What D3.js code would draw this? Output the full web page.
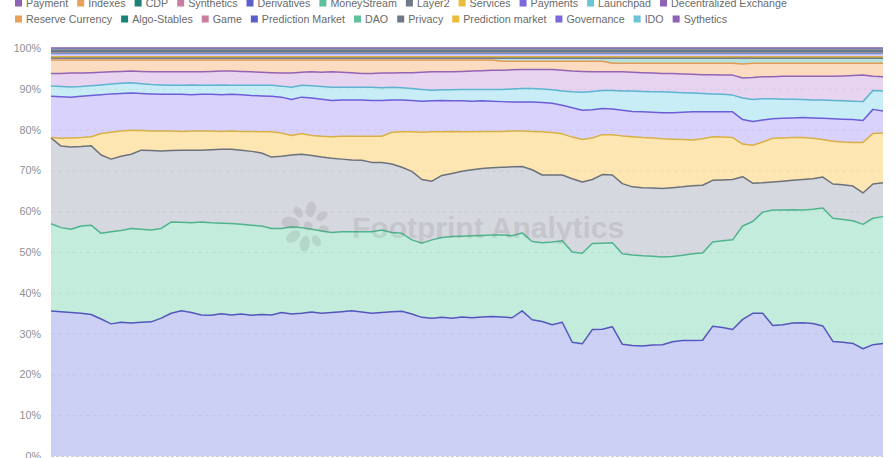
<!DOCTYPE html>
<html><head><meta charset="utf-8">
<script src="https://cdn.jsdelivr.net/npm/d3@7/dist/d3.min.js"></script>
<style>
body{margin:0;background:#fff;}
svg{display:block;font-family:"Liberation Sans",Arial,Helvetica,sans-serif;}
</style>
</head><body>
<svg id="chart" width="896" height="458"></svg>
<script>
// ---------- DATA ----------
const seriesNames = [
  "Dexes","Lending","Liquid Staking","Yield","Bridge","Yield Aggregator",
  "Payment","Indexes","CDP","Synthetics","Derivatives","MoneyStream","Layer2","Services","Payments","Launchpad","Decentralized Exchange",
  "Reserve Currency","Algo-Stables","Game","Prediction Market","DAO","Privacy","Prediction market","Governance","IDO","Sythetics"
];
const yTickValues = [0,0.1,0.2,0.3,0.4,0.5,0.6,0.7,0.8,0.9,1];
const yTickLabels = ["0%","10%","20%","30%","40%","50%","60%","70%","80%","90%","100%"];

// share of total (%), one value per day-slot, left to right
const dexes = [35.6,35.4,35.2,35.0,34.7,33.6,32.4,32.8,32.6,32.8,
 32.9,33.8,35.0,35.6,35.2,34.6,34.5,34.9,34.6,34.8,
 34.5,34.7,34.6,35.2,34.8,35.0,35.3,35.0,35.2,35.4,
 35.6,35.3,35.0,35.2,35.4,35.5,34.8,34.0,33.8,34.0,
 33.8,34.1,33.9,34.1,34.2,34.1,33.9,35.6,33.4,33.0,
 32.2,32.8,27.9,27.5,31.0,31.1,31.7,27.4,27.1,27.0,
 27.2,27.3,28.0,28.3,28.3,28.4,31.8,31.5,31.0,33.5,
 35.0,35.0,32.0,32.2,32.6,32.7,32.5,31.9,28.1,27.9,
 27.6,26.3,27.3,27.6];
const lending = [21.4,20.6,20.4,21.4,21.9,21.0,22.6,22.5,23.2,22.8,
 22.5,22.0,22.4,21.7,22.0,22.8,22.7,22.2,22.4,22.0,
 22.1,21.7,21.2,20.6,21.4,21.0,20.3,20.2,19.6,19.6,
 19.4,19.7,20.0,20.2,19.4,19.1,18.2,18.2,19.2,19.6,
 20.0,19.8,20.1,20.0,20.0,20.1,20.1,19.1,19.2,19.3,
 20.3,20.0,22.1,22.2,21.1,21.1,20.6,22.2,22.2,22.1,
 21.8,21.5,20.9,20.9,21.3,21.4,20.7,21.3,22.0,22.9,
 22.5,24.8,28.3,28.1,27.8,27.6,28.0,28.9,30.2,30.1,
 30.1,30.5,31.0,31.1];
const liquidStaking = [21.1,20.0,20.2,19.5,19.5,19.2,17.8,18.2,18.2,19.4,
 19.5,19.0,17.5,17.7,17.8,17.6,17.9,18.1,18.2,18.2,
 18.1,17.9,17.5,17.7,17.6,18.0,18.1,18.1,18.2,17.8,
 17.6,17.5,17.0,16.6,16.8,16.2,16.8,15.6,14.4,15.2,
 15.5,15.9,16.2,16.4,16.5,16.6,16.9,16.3,17.6,16.6,
 16.4,16.1,18.0,17.5,15.7,16.8,16.6,17.2,16.7,16.7,
 16.7,16.8,16.9,16.8,16.7,16.6,15.1,14.9,14.8,12.1,
 9.4,7.2,6.9,7.1,7.2,7.5,7.5,7.6,8.4,8.5,
 8.5,7.7,8.4,8.3];
const yieldS = [0.1,1.9,2.2,2.2,2.2,5.3,6.6,6.2,5.9,4.8,
 4.8,4.9,4.8,4.6,4.7,4.7,4.6,4.4,4.5,4.6,
 4.9,5.2,6.2,5.7,4.8,5.1,4.9,5.1,5.3,5.6,
 5.8,5.9,6.4,6.4,7.8,8.7,9.7,11.6,12.1,10.7,
 10.3,9.7,9.3,9.1,8.9,8.8,8.8,8.7,9.4,10.6,
 10.4,10.1,10.2,10.4,10.2,9.8,9.9,11.7,12.3,12.3,
 12.3,12.2,11.9,11.6,11.2,11.4,10.7,10.5,10.3,8.0,
 9.3,10.0,10.7,10.6,10.5,10.3,9.9,9.2,10.5,10.5,
 10.7,12.4,12.4,12.2];
const bridge = [10.1,10.2,10.0,10.1,10.1,9.5,9.4,9.2,9.1,9.1,
 9.1,9.0,9.0,9.1,8.9,9.0,9.0,9.0,9.0,9.0,
 8.8,8.8,8.7,8.8,8.8,8.9,9.2,9.1,8.9,8.9,
 8.9,8.9,8.8,8.8,7.9,7.8,7.7,7.6,7.6,7.7,
 7.5,7.6,7.5,7.5,7.4,7.3,7.1,7.1,7.2,7.2,
 7.2,7.0,7.2,7.2,6.9,6.4,6.3,6.3,6.2,6.3,
 6.3,6.4,6.5,6.7,6.9,6.6,6.1,6.2,6.3,6.0,
 5.8,5.4,4.8,4.8,4.8,4.9,5.0,5.2,5.5,5.6,
 5.6,5.4,5.9,5.4];
const yieldAggregator = [2.5,2.5,2.5,2.4,2.4,2.4,2.4,2.5,2.5,2.4,
 2.3,2.3,2.2,2.2,2.4,2.2,2.2,2.4,2.2,2.3,
 2.5,2.6,2.7,2.7,3.0,2.9,3.0,3.1,3.2,3.1,
 3.1,3.1,3.2,3.1,3.1,3.0,2.9,2.9,2.6,2.6,
 2.7,2.8,2.9,2.8,2.9,3.0,3.2,3.3,3.3,3.3,
 3.3,3.5,3.9,4.4,4.5,4.4,4.5,4.7,5.0,5.0,
 5.0,5.1,5.0,4.8,4.6,4.5,4.4,4.3,4.1,5.3,
 5.4,5.2,4.9,4.7,4.6,4.4,4.4,4.5,4.5,4.5,
 4.5,4.6,4.6,4.9];
const payment = [3.1,3.2,3.4,3.3,3.2,3.1,3.0,2.9,2.9,3.0,
 3.1,3.2,3.3,3.3,3.2,3.3,3.4,3.4,3.5,3.4,
 3.3,3.2,3.1,3.2,3.5,3.2,3.4,3.5,3.8,3.7,
 3.6,3.4,3.4,3.6,3.5,3.7,3.9,4.2,4.5,4.4,
 4.4,4.4,4.5,4.6,4.7,4.7,4.7,4.7,4.7,4.8,
 5.0,5.1,5.1,5.1,4.8,4.6,4.6,4.7,4.6,4.6,
 4.6,4.5,4.6,4.6,4.6,4.6,4.7,4.7,4.9,4.9,
 5.4,5.4,5.4,5.6,5.6,5.7,5.8,5.8,5.9,6.1,
 6.3,6.5,3.5,3.5];
const indexes = [3.3,3.3,3.2,3.2,3.1,3.0,2.9,2.8,2.7,2.8,
 2.9,2.9,2.9,2.9,2.9,2.9,2.8,2.7,2.7,2.8,
 2.9,3.0,3.1,3.2,3.2,3.0,2.9,3.0,2.9,3.0,
 3.1,3.3,3.3,3.2,3.2,3.1,3.1,3.0,2.9,2.9,
 2.9,2.8,2.7,2.6,2.5,2.2,2.1,2.0,2.0,2.0,
 2.0,2.2,2.4,2.5,2.6,2.6,2.1,2.1,2.2,2.3,
 2.4,2.5,2.5,2.6,2.7,2.8,2.8,2.9,2.9,3.4,
 3.5,3.3,3.3,3.2,3.2,3.2,3.2,3.2,3.2,3.1,
 3.0,2.9,3.2,3.3];
const cdp = [0.5,0.5,0.5,0.5,0.5,0.5,0.5,0.5,0.5,0.5,
 0.5,0.5,0.5,0.5,0.5,0.5,0.5,0.5,0.5,0.5,
 0.5,0.5,0.5,0.5,0.5,0.5,0.5,0.5,0.5,0.5,
 0.5,0.5,0.5,0.5,0.5,0.5,0.5,0.5,0.5,0.5,
 0.5,0.5,0.5,0.5,0.5,0.8,0.8,0.8,0.8,0.8,
 0.8,0.8,0.8,0.8,0.8,0.8,1.3,1.3,1.3,1.3,
 1.3,1.3,1.3,1.3,1.3,1.3,1.3,1.3,1.3,1.5,
 1.3,1.3,1.3,1.3,1.3,1.3,1.3,1.3,1.3,1.3,
 1.3,1.3,1.3,1.3];
const synthetics = [0.05,0.05,0.05,0.05,0.05,0.05,0.05,0.05,0.05,0.05,0.05,0.05,0.05,0.05,0.05,0.05,0.05,0.05,0.05,0.05,0.05,0.05,0.05,0.05,0.05,0.05,0.05,0.05,0.05,0.05,0.05,0.05,0.05,0.05,0.05,0.05,0.05,0.05,0.05,0.05,0.05,0.05,0.05,0.05,0.05,0.05,0.05,0.05,0.05,0.05,0.05,0.05,0.05,0.05,0.05,0.05,0.05,0.05,0.05,0.05,0.05,0.05,0.05,0.05,0.05,0.05,0.05,0.05,0.05,0.05,0.05,0.05,0.05,0.05,0.05,0.05,0.05,0.05,0.05,0.05,0.05,0.05,0.05,0.05];
const derivatives = [0.1,0.1,0.1,0.1,0.1,0.1,0.1,0.1,0.1,0.1,0.1,0.1,0.1,0.1,0.1,0.1,0.1,0.1,0.1,0.1,0.1,0.1,0.1,0.1,0.1,0.1,0.1,0.1,0.1,0.1,0.1,0.1,0.1,0.1,0.1,0.1,0.1,0.1,0.1,0.1,0.1,0.1,0.1,0.1,0.1,0.1,0.1,0.1,0.1,0.1,0.1,0.1,0.1,0.1,0.1,0.1,0.1,0.1,0.1,0.1,0.1,0.1,0.1,0.1,0.1,0.1,0.1,0.1,0.1,0.1,0.1,0.1,0.1,0.1,0.1,0.1,0.1,0.1,0.1,0.1,0.1,0.1,0.1,0.1];
const moneyStream = [0.05,0.05,0.05,0.05,0.05,0.05,0.05,0.05,0.05,0.05,0.05,0.05,0.05,0.05,0.05,0.05,0.05,0.05,0.05,0.05,0.05,0.05,0.05,0.05,0.05,0.05,0.05,0.05,0.05,0.05,0.05,0.05,0.05,0.05,0.05,0.05,0.05,0.05,0.05,0.05,0.05,0.05,0.05,0.05,0.05,0.05,0.05,0.05,0.05,0.05,0.05,0.05,0.05,0.05,0.05,0.05,0.05,0.05,0.05,0.05,0.05,0.05,0.05,0.05,0.05,0.05,0.05,0.05,0.05,0.05,0.05,0.05,0.05,0.05,0.05,0.05,0.05,0.05,0.05,0.05,0.05,0.05,0.05,0.05];
const layer2 = [0.05,0.05,0.05,0.05,0.05,0.05,0.05,0.05,0.05,0.05,0.05,0.05,0.05,0.05,0.05,0.05,0.05,0.05,0.05,0.05,0.05,0.05,0.05,0.05,0.05,0.05,0.05,0.05,0.05,0.05,0.05,0.05,0.05,0.05,0.05,0.05,0.05,0.05,0.05,0.05,0.05,0.05,0.05,0.05,0.05,0.05,0.05,0.05,0.05,0.05,0.05,0.05,0.05,0.05,0.05,0.05,0.05,0.05,0.05,0.05,0.05,0.05,0.05,0.05,0.05,0.05,0.05,0.05,0.05,0.05,0.05,0.05,0.05,0.05,0.05,0.05,0.05,0.05,0.05,0.05,0.05,0.05,0.05,0.05];
const services = [0.05,0.05,0.05,0.05,0.05,0.05,0.05,0.05,0.05,0.05,0.05,0.05,0.05,0.05,0.05,0.05,0.05,0.05,0.05,0.05,0.05,0.05,0.05,0.05,0.05,0.05,0.05,0.05,0.05,0.05,0.05,0.05,0.05,0.05,0.05,0.05,0.05,0.05,0.05,0.05,0.05,0.05,0.05,0.05,0.05,0.05,0.05,0.05,0.05,0.05,0.05,0.05,0.05,0.05,0.05,0.05,0.05,0.05,0.05,0.05,0.05,0.05,0.05,0.05,0.05,0.05,0.05,0.05,0.05,0.05,0.05,0.05,0.05,0.05,0.05,0.05,0.05,0.05,0.05,0.05,0.05,0.05,0.05,0.05];
const payments = [0.8,0.8,0.8,0.8,0.8,0.8,0.8,0.8,0.8,0.8,0.8,0.8,0.8,0.8,0.8,0.8,0.8,0.8,0.8,0.8,0.8,0.8,0.8,0.8,0.8,0.8,0.8,0.8,0.8,0.8,0.8,0.8,0.8,0.8,0.8,0.8,0.8,0.8,0.8,0.8,0.8,0.8,0.8,0.8,0.8,0.8,0.8,0.8,0.8,0.8,0.8,0.8,0.8,0.8,0.8,0.8,0.8,0.8,0.8,0.8,0.8,0.8,0.8,0.8,0.8,0.8,0.8,0.8,0.8,0.8,0.8,0.8,0.8,0.8,0.8,0.8,0.8,0.8,0.8,0.8,0.8,0.8,0.8,0.8];
const launchpad = [0.15,0.15,0.15,0.15,0.15,0.15,0.15,0.15,0.15,0.15,0.15,0.15,0.15,0.15,0.15,0.15,0.15,0.15,0.15,0.15,0.15,0.15,0.15,0.15,0.15,0.15,0.15,0.15,0.15,0.15,0.15,0.15,0.15,0.15,0.15,0.15,0.15,0.15,0.15,0.15,0.15,0.15,0.15,0.15,0.15,0.15,0.15,0.15,0.15,0.15,0.15,0.15,0.15,0.15,0.15,0.15,0.15,0.15,0.15,0.15,0.15,0.15,0.15,0.15,0.15,0.15,0.15,0.15,0.15,0.15,0.15,0.15,0.15,0.15,0.15,0.15,0.15,0.15,0.15,0.15,0.15,0.15,0.15,0.15];
const decentralizedExchange = [0.2,0.2,0.2,0.2,0.2,0.2,0.2,0.2,0.2,0.2,0.2,0.2,0.2,0.2,0.2,0.2,0.2,0.2,0.2,0.2,0.2,0.2,0.2,0.2,0.2,0.2,0.2,0.2,0.2,0.2,0.2,0.2,0.2,0.2,0.2,0.2,0.2,0.2,0.2,0.2,0.2,0.2,0.2,0.2,0.2,0.2,0.2,0.2,0.2,0.2,0.2,0.2,0.2,0.2,0.2,0.2,0.2,0.2,0.2,0.2,0.2,0.2,0.2,0.2,0.2,0.2,0.2,0.2,0.2,0.2,0.2,0.2,0.2,0.2,0.2,0.2,0.2,0.2,0.2,0.2,0.2,0.2,0.2,0.2];
// the ten smallest categories: each around 0.1% of the total
const smallShare = [0.1,0.1,0.1,0.1,0.1,0.1,0.1,0.1,0.1,0.1,0.1,0.1,0.1,0.1,0.1,0.1,0.1,0.1,0.1,0.1,0.1,0.1,0.1,0.1,0.1,0.1,0.1,0.1,0.1,0.1,0.1,0.1,0.1,0.1,0.1,0.1,0.1,0.1,0.1,0.1,0.1,0.1,0.1,0.1,0.1,0.1,0.1,0.1,0.1,0.1,0.1,0.1,0.1,0.1,0.1,0.1,0.1,0.1,0.1,0.1,0.1,0.1,0.1,0.1,0.1,0.1,0.1,0.1,0.1,0.1,0.1,0.1,0.1,0.1,0.1,0.1,0.1,0.1,0.1,0.1,0.1,0.1,0.1,0.1];

const seriesValues = [dexes,lending,liquidStaking,yieldS,bridge,yieldAggregator,
  payment,indexes,cdp,synthetics,derivatives,moneyStream,layer2,services,payments,launchpad,decentralizedExchange,
  smallShare,smallShare,smallShare,smallShare,smallShare,smallShare,smallShare,smallShare,smallShare,smallShare];

// ---------- STYLE ----------
const lineColors = ["#5357bb","#4fb48d","#6c717b","#d9b045","#6b5ed6","#5db3d0","#9563b3","#e39a57","#1c7b73","#c6799a"];
const fillColors = ["#cdd0f5","#c3ecdc","#d5d8df","#fde6b1","#d9d2fc","#c8edf6","#e6d4f1","#fcdcc0","#b7e1db","#f2d5e0"];
const legendColors = ["#5b5fc7","#5ec09c","#6f7888","#e8bd3a","#7b69dc","#6cc3d6","#8e63b3","#e8a15a","#1a8276","#c97e9e"];

const plot = {left: 51, right: 883, top: 48, bottom: 456};
const svg = d3.select("#chart");

const N = dexes.length;
const rows = d3.range(N).map(i => {
  const r = {i};
  seriesNames.forEach((n, k) => r[n] = seriesValues[k][i]);
  return r;
});
const stack = d3.stack().keys(seriesNames).offset(d3.stackOffsetExpand);
const layers = stack(rows);

const x = d3.scaleLinear().domain([0, N - 1]).range([plot.left, plot.right]);
const y = d3.scaleLinear().domain([0, 1]).range([plot.bottom, plot.top]);

// y axis labels
const yAxis = d3.axisLeft(y).tickValues(yTickValues)
  .tickFormat((d, i) => yTickLabels[i]).tickSize(0).tickPadding(10);
const ya = svg.append("g").attr("transform", `translate(${plot.left},0)`).call(yAxis);
ya.select(".domain").remove();
ya.selectAll("text").attr("fill", "#8f8f8f").style("font-size", "10.7px")
  .style("font-family", '"Liberation Sans",Arial,sans-serif');

// areas
const area = d3.area().x(d => x(d.data.i)).y0(d => y(d[0])).y1(d => y(d[1]));
svg.append("g").selectAll("path").data(layers).join("path")
  .attr("d", area).attr("fill", (d, k) => fillColors[k % 10]);

// grid lines (faint, over fills)
const grid = d3.axisLeft(y).tickValues(yTickValues).tickSize(-(plot.right - plot.left)).tickFormat("");
const gg = svg.append("g").attr("transform", `translate(${plot.left},0)`).call(grid);
gg.select(".domain").remove();
gg.selectAll("line").attr("stroke", "#000").attr("stroke-opacity", 0.05).attr("stroke-dasharray", "4,3");

// lines
const line = d3.line().x(d => x(d.data.i)).y(d => y(d[1]));
svg.append("g").selectAll("path").data(layers).join("path")
  .attr("d", line).attr("fill", "none").attr("stroke", (d, k) => lineColors[k % 10])
  .attr("stroke-width", 1.5).attr("stroke-linejoin", "round");

// x baseline
svg.append("line").attr("x1", plot.left).attr("x2", plot.right).attr("y1", plot.bottom + 0.5).attr("y2", plot.bottom + 0.5)
  .attr("stroke", "#cfcfcf").attr("stroke-dasharray", "3,2");

// watermark
const wm = svg.append("g").attr("opacity", 0.16).attr("fill", "#6f6f6f");
const cx = 308, cy = 226;
const petals = [
  {a: -80, r: 17, rx: 5, ry: 8}, {a: -35, r: 17, rx: 4, ry: 6}, {a: 10, r: 16, rx: 3.5, ry: 5},
  {a: 60, r: 17, rx: 4, ry: 6}, {a: 100, r: 18, rx: 5, ry: 8}, {a: 145, r: 18, rx: 5, ry: 8},
  {a: 190, r: 18, rx: 6, ry: 9}, {a: 235, r: 17, rx: 4, ry: 6}
];
petals.forEach(p => {
  const rad = p.a * Math.PI / 180;
  const px = cx + p.r * Math.cos(rad), py = cy + p.r * Math.sin(rad);
  wm.append("ellipse").attr("cx", px).attr("cy", py).attr("rx", p.rx).attr("ry", p.ry)
    .attr("transform", `rotate(${p.a + 90},${px},${py})`);
});
wm.append("circle").attr("cx", cx).attr("cy", cy).attr("r", 4.5);
wm.append("text").attr("x", 352).attr("y", 238).text("Footprint Analytics")
  .style("font-size", "30px").style("font-weight", "bold").style("font-family", '"Liberation Sans",Arial,sans-serif');

// legend
const legend = svg.append("g");
const fontSize = 10.7;
const sq = 7, gapText = 4, itemGap = 9, maxRight = 875, startX = 15, rowH = 16;
const items = seriesNames.map((n, k) => ({name: n, color: legendColors[k % 10], k}));
const meas = svg.append("text").style("font-size", fontSize + "px").style("font-family", '"Liberation Sans",Arial,sans-serif');
items.forEach(it => { meas.text(it.name); it.w = meas.node().getComputedTextLength(); });
meas.remove();
let rowsL = [[]], cxL = startX;
items.forEach((it, idx) => {
  const wTot = sq + gapText + it.w;
  if ((cxL + wTot > maxRight && rowsL[rowsL.length - 1].length) || idx === 6) { rowsL.push([]); cxL = startX; }
  it.x = cxL; rowsL[rowsL.length - 1].push(it); cxL += wTot + itemGap;
});
const lastBaseline = 23;
rowsL.forEach((row, r) => {
  const base = lastBaseline - rowH * (rowsL.length - 1 - r);
  row.forEach(it => {
    legend.append("rect").attr("x", it.x).attr("y", base - 7.5).attr("width", sq).attr("height", sq).attr("fill", it.color);
    legend.append("text").attr("x", it.x + sq + gapText).attr("y", base).text(it.name)
      .attr("fill", "#6a6a6a").style("font-size", fontSize + "px");
  });
});
</script>
</body></html>
